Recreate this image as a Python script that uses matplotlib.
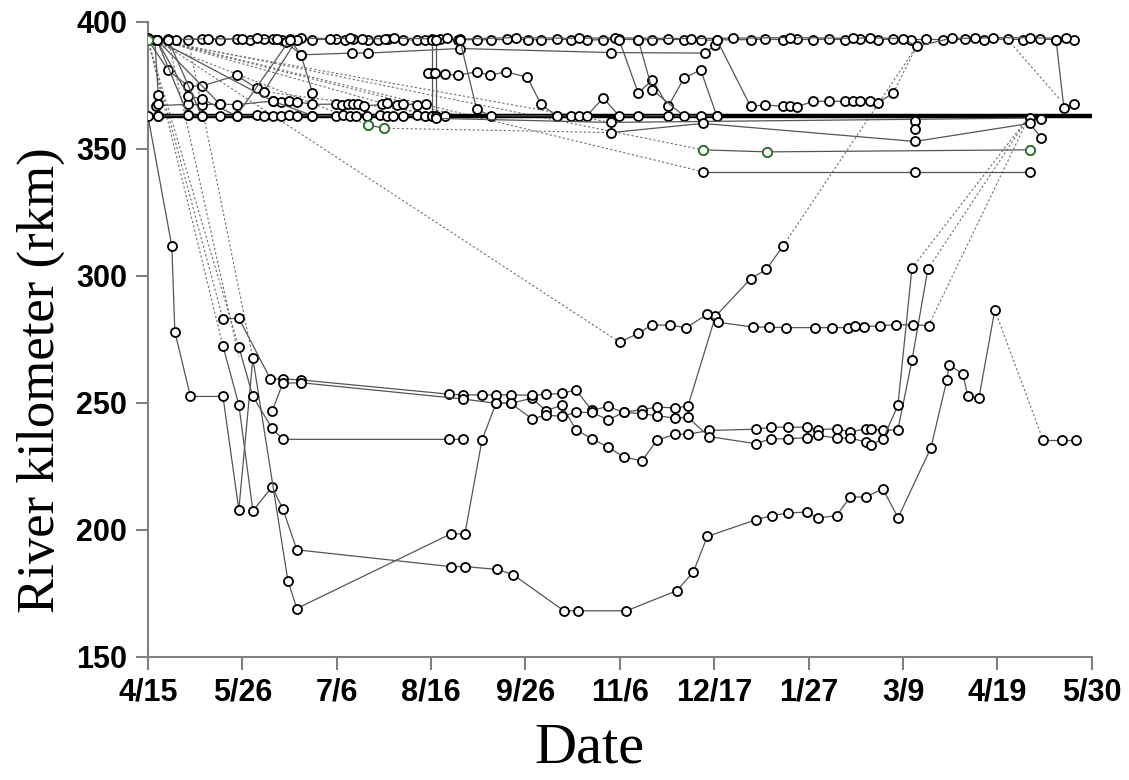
import numpy as np
import matplotlib.pyplot as plt

plt.rc('font', family='Liberation Sans')

# x values are days after 15 April
tick_days = [0, 41, 82, 123, 164, 205, 246, 287, 328, 369, 410]
tick_labels = ['4/15', '5/26', '7/6', '8/16', '9/26', '11/6', '12/17',
               '1/27', '3/9', '4/19', '5/30']
y_ticks = [150, 200, 250, 300, 350, 400]

# ---- upper river (around 393 rkm) ----
top_a_day = [3.8, 8.8, 17.5, 23.6, 31.3, 38.5, 44.3, 50.4, 54.4, 58.1,
             61.7, 64.6, 71.5, 81.9, 85.6, 89.2, 95.8, 100.1, 104.5, 110.9,
             116.7, 120.4, 126.9, 134.8, 142.8, 148.9, 155.9, 164.9, 170.7, 177.8,
             183.7, 190.6, 197.8, 204.7, 213.0, 219.1, 226.0, 232.8, 240.1, 247.1,
             261.8, 268.0, 276.0, 281.8, 289.0, 296.0, 302.8, 309.3, 317.3, 323.8,
             331.4, 338.0, 345.3, 355.0, 363.2, 373.5, 380.3, 387.5, 394.5, 402.3]
top_a_rkm = [393.0, 393.2, 393.0, 393.1, 393.0, 393.3, 393.0, 393.2, 393.1, 393.0,
             393.3, 392.8, 393.0, 393.2, 393.0, 393.1, 392.9, 393.0, 393.2, 393.0,
             392.8, 393.0, 393.1, 392.9, 393.0, 392.9, 393.1, 393.0, 392.9, 393.2,
             393.0, 392.8, 393.0, 393.1, 393.0, 392.9, 393.1, 393.0, 392.7, 392.9,
             393.0, 393.2, 393.0, 393.1, 393.0, 393.2, 393.0, 393.1, 393.0, 393.2,
             393.0, 393.1, 393.0, 393.1, 393.0, 393.2, 393.0, 393.2, 393.0, 392.9]

top_b_day = [0.0, 12.0, 26.0, 41.0, 47.4, 56.2, 66.5, 79.0, 87.8, 92.9,
             103.1, 106.7, 123.3, 129.8, 135.5, 160.0, 187.4, 203.0, 236.0, 254.0,
             279.0, 306.1, 313.6, 328.1, 333.9, 349.2, 359.3, 367.0, 383.0, 398.8]
top_b_rkm = [393.5, 393.0, 393.4, 393.2, 393.5, 393.3, 393.6, 393.4, 393.5, 393.2,
             393.4, 393.6, 393.3, 393.5, 393.2, 393.8, 393.5, 393.7, 393.4, 393.6,
             393.8, 393.5, 393.7, 393.4, 390.3, 393.6, 393.5, 393.8, 393.7, 393.5]

top_c_day = [60.0, 66.5, 88.6, 95.8, 135.5, 201.1, 242.0, 246.5]
top_c_rkm = [392.0, 387.0, 387.7, 387.7, 389.5, 387.9, 387.7, 391.0]

# ---- rows near the lower reach boundary ----
band368_day = [3.5, 17.5, 23.3, 31.3, 38.5, 54.2, 57.9, 61.5, 64.6, 71.5, 81.9,
               84.5, 87.0, 89.2, 91.3, 93.8, 101.5, 103.7, 108.1, 111.0, 116.7, 121.0]
band368_rkm = [367.0, 367.5, 367.3, 367.6, 367.4, 368.8, 368.5, 368.9, 368.6, 367.5, 367.6,
               367.4, 367.7, 367.5, 367.6, 366.8, 367.5, 368.0, 367.2, 367.6, 367.4, 367.7]

band363_day = [4.5, 17.5, 23.3, 31.3, 38.5, 47.4, 50.4, 54.2, 57.9, 61.5, 64.6,
               71.5, 81.9, 84.8, 87.7, 90.6, 95.0, 100.8, 103.7, 106.6, 110.9,
               116.7, 120.4, 123.3, 129.0]
band363_rkm = [363.0, 363.2, 363.0, 363.1, 363.0, 363.2, 363.0, 363.1, 363.0, 363.2, 363.0,
               363.1, 363.0, 363.2, 363.0, 363.1, 363.0, 363.2, 363.0, 363.1, 363.0,
               363.2, 363.0, 363.1, 363.0]

zz1_day = [0.0, 8.8, 17.5, 23.6, 38.5, 47.4, 50.4, 64.6]
zz1_rkm = [393.0, 381.0, 374.6, 374.8, 378.9, 373.8, 372.5, 393.0]
zz2_day = [3.8, 17.5, 23.6, 38.5, 61.7, 66.5, 71.5]
zz2_rkm = [393.0, 370.9, 369.5, 363.0, 393.0, 387.0, 372.0]
zz3_day = [3.0, 4.5, 4.5, 4.5]
zz3_rkm = [393.0, 371.3, 367.5, 363.0]
fan1_day = [3.8, 17.5]
fan1_rkm = [393.0, 363.2]
fan2_day = [3.8, 31.3]
fan2_rkm = [393.0, 367.6]
fan3_day = [3.8, 54.2, 71.5]
fan3_rkm = [393.0, 368.8, 363.1]
fan4_day = [8.8, 23.3]
fan4_rkm = [393.0, 363.0]

vert_day = [123.3, 123.3, 123.3, 125.3, 125.3]
vert_rkm = [393.0, 380.0, 363.0, 363.0, 393.0]
row380_day = [121.8, 124.5, 129.0, 134.8, 142.8, 148.6, 155.6, 164.8, 170.7, 177.8]
row380_rkm = [380.0, 380.0, 379.5, 379.0, 380.3, 379.0, 380.3, 378.2, 367.6, 362.8]
mid363_day = [135.5, 142.8, 148.9, 177.8, 183.7, 187.4, 190.6, 197.8, 204.7,
              213.0, 226.0, 240.1, 247.1]
mid363_rkm = [393.0, 365.6, 363.0, 363.0, 363.0, 363.0, 363.0, 370.0, 363.0,
              363.0, 363.0, 363.0, 363.0]
zm1_day = [204.7, 213.0, 219.1, 226.0, 232.8, 240.1, 247.1]
zm1_rkm = [393.0, 371.9, 377.2, 366.7, 377.7, 381.1, 363.0]
zm2_day = [213.0, 219.1, 232.8]
zm2_rkm = [393.0, 373.2, 363.0]
r368_day = [247.1, 261.8, 268.0, 276.0, 279.0, 281.8, 289.0, 296.0, 302.8,
            306.1, 309.3, 313.6, 317.3, 323.8]
r368_rkm = [393.0, 366.7, 367.3, 366.7, 366.7, 366.5, 368.7, 368.7, 368.7,
            369.0, 369.0, 368.7, 368.2, 372.0]
r_end_day = [394.5, 397.9, 402.3]
r_end_rkm = [393.0, 366.1, 367.5]

s360_day = [125.3, 201.1, 383.0, 388.1]
s360_rkm = [362.0, 360.4, 362.1, 361.7]
s356_day = [201.1, 241.0, 333.2, 383.0, 388.1]
s356_rkm = [356.4, 360.0, 352.9, 360.0, 354.4]
s358_day = [333.2, 333.2]
s358_rkm = [360.8, 357.8]
green_a_day = [95.7, 102.5]
green_a_rkm = [359.4, 358.1]
s350_day = [241.0, 269.0, 383.0]
s350_rkm = [349.6, 348.8, 349.6]
s342_day = [241.0, 333.2, 383.0]
s342_rkm = [341.0, 341.0, 341.0]

# ---- fish that moved downstream ----
low1_day = [32.6, 39.5, 45.6, 53.9, 58.6, 64.7, 131.6, 137.7, 151.8, 158.7,
            180.7, 186.9, 207.9, 229.7, 236.9, 243.0, 264.0, 270.9, 278.1, 286.1,
            290.9, 299.2, 305.0, 311.9, 319.2, 325.9, 340.1, 347.1, 348.0, 354.0,
            356.2, 361.0, 367.9]
low1_rkm = [272.4, 249.2, 207.5, 216.8, 208.3, 192.1, 185.5, 185.5, 184.4, 182.3,
            168.1, 168.1, 168.1, 176.0, 183.3, 197.4, 203.9, 205.6, 206.6, 207.0,
            204.6, 205.6, 212.9, 212.9, 216.1, 204.8, 232.2, 259.1, 265.0, 261.3,
            252.5, 251.9, 286.6]
low1_end_day = [388.8, 397.0, 403.1]
low1_end_rkm = [235.4, 235.4, 235.4]

trk_a_day = [0.0, 10.4, 11.7, 18.5, 32.6, 39.5, 45.6, 60.8, 64.7, 131.6,
             137.7, 145.1, 151.2, 157.7, 166.8, 172.9, 179.8, 185.9, 192.9, 199.8,
             206.8, 214.6, 221.1, 228.9, 234.6, 243.7, 264.1, 270.6, 278.0, 286.3,
             291.0, 299.3, 305.0, 311.9, 314.1, 319.3, 325.8, 331.9, 338.8]
trk_a_rkm = [363.0, 311.6, 278.0, 252.5, 252.5, 207.9, 267.5, 180.0, 169.0, 198.4,
             198.4, 235.2, 249.8, 249.8, 251.8, 246.9, 249.0, 239.4, 235.8, 232.6,
             228.6, 227.2, 235.2, 237.6, 237.6, 239.1, 239.6, 240.4, 240.4, 240.4,
             239.4, 239.8, 238.5, 239.8, 239.8, 239.1, 239.4, 266.7, 302.6]

trk_b_day = [32.6, 39.5, 53.2, 58.6, 66.5, 130.8, 136.8, 145.1, 151.2, 157.7,
             166.8, 172.9, 179.8, 185.9, 192.9, 199.8, 206.8, 214.6, 221.1, 228.9,
             234.6, 246.5, 261.8, 268.7, 275.8]
trk_b_rkm = [283.0, 283.3, 259.4, 259.4, 259.0, 253.4, 253.1, 253.1, 253.1, 253.1,
             253.0, 253.3, 253.7, 255.1, 247.0, 248.6, 246.2, 247.3, 248.3, 248.0,
             248.7, 284.0, 298.8, 302.6, 311.6]

trk_c_day = [53.9, 58.6, 66.5, 136.8, 151.2, 157.7, 166.8, 172.9, 179.8, 185.9,
             192.9, 199.8, 206.8, 214.6, 221.1, 228.9, 234.6, 243.7, 264.1, 270.6,
             278.0, 286.3, 291.0, 299.3, 305.0, 311.9, 314.1, 319.3, 325.8, 331.9]
trk_c_rkm = [246.6, 257.7, 257.9, 251.5, 249.8, 249.8, 243.7, 245.1, 244.7, 246.2,
             246.2, 243.3, 246.2, 245.7, 244.9, 244.0, 244.3, 236.7, 233.9, 235.8,
             235.8, 236.3, 237.2, 236.1, 236.1, 234.6, 233.3, 235.8, 249.0, 303.0]

trk_d_day = [39.5, 45.6, 53.9, 58.6, 130.8, 136.8]
trk_d_rkm = [272.0, 252.5, 240.0, 235.6, 235.6, 235.6]

trk_f_day = [205.0, 213.0, 219.1, 227.0, 233.9, 243.0, 247.8, 263.0, 270.0, 277.2,
             290.0, 297.1, 304.1, 307.1, 310.9, 318.0, 324.9, 332.2, 339.1]
trk_f_rkm = [273.8, 277.4, 280.7, 280.5, 279.6, 284.9, 281.7, 279.8, 279.8, 279.6,
             279.6, 279.6, 279.6, 280.4, 279.9, 280.4, 280.7, 280.7, 280.4]

# dotted links: (start day, start rkm, end day, end rkm)
gap_start_day = [3.8, 3.8, 3.8, 3.8, 0.0, 0.0, 0.0, 0.0, 0.0, 102.5, 50.4, 3.8,
                 367.9, 323.8, 275.8, 338.8, 331.9, 339.1, 373.5, 8.8, 17.5]
gap_start_rkm = [393.0, 393.0, 393.0, 393.0, 393.0, 393.0, 393.0, 393.0, 393.0, 358.1,
                 372.5, 393.0, 286.6, 372.0, 311.6, 302.6, 303.0, 280.4, 393.0, 393.0, 393.0]
gap_end_day = [241.0, 241.0, 205.0, 125.3, 201.1, 32.6, 39.5, 32.6, 95.7, 201.1,
               140.0, 135.0, 388.8, 333.9, 333.9, 383.0, 383.0, 383.0, 396.3, 39.5, 45.6]
gap_end_rkm = [349.6, 341.0, 273.8, 362.0, 360.4, 272.4, 272.0, 283.0, 359.4, 356.4,
               362.0, 363.0, 235.4, 390.3, 390.3, 363.0, 363.0, 363.0, 369.3, 268.0, 267.5]

green_day = [0.0, 95.7, 102.5, 241.0, 269.0, 383.0]
green_rkm = [393.0, 359.4, 358.1, 349.6, 348.8, 349.6]

solid_tracks = [
    (top_a_day, top_a_rkm), (top_b_day, top_b_rkm), (top_c_day, top_c_rkm),
    (band368_day, band368_rkm), (band363_day, band363_rkm),
    (zz1_day, zz1_rkm), (zz2_day, zz2_rkm), (zz3_day, zz3_rkm),
    (fan1_day, fan1_rkm), (fan2_day, fan2_rkm), (fan3_day, fan3_rkm), (fan4_day, fan4_rkm),
    (vert_day, vert_rkm), (row380_day, row380_rkm), (mid363_day, mid363_rkm),
    (zm1_day, zm1_rkm), (zm2_day, zm2_rkm), (r368_day, r368_rkm), (r_end_day, r_end_rkm),
    (s360_day, s360_rkm), (s356_day, s356_rkm), (s358_day, s358_rkm),
    (green_a_day, green_a_rkm), (s350_day, s350_rkm), (s342_day, s342_rkm),
    (low1_day, low1_rkm), (low1_end_day, low1_end_rkm),
    (trk_a_day, trk_a_rkm), (trk_b_day, trk_b_rkm), (trk_c_day, trk_c_rkm),
    (trk_d_day, trk_d_rkm), (trk_f_day, trk_f_rkm),
]

fig = plt.figure(figsize=(11.29, 7.8), dpi=100)
ax = fig.add_axes([0.131, 0.158, 0.836, 0.814])

ax.axhline(363, color='black', lw=3.2, zorder=2)

for i in range(len(gap_start_day)):
    ax.plot([gap_start_day[i], gap_end_day[i]], [gap_start_rkm[i], gap_end_rkm[i]],
            linestyle=(0, (2, 2)), color='#6e6e6e', lw=0.8, zorder=1)

for d, r in solid_tracks:
    ax.plot(d, r, '-', color='#555555', lw=0.9, marker='o', ms=6.5,
            mfc='white', mec='black', mew=1.3, zorder=3)

ax.plot(green_day, green_rkm, 'o', ms=6.5, mfc='white', mec='#2e7d2e', mew=1.3,
        ls='none', zorder=4)

ax.set_xlim(0, 410)
ax.set_ylim(150, 400)
ax.set_xticks(tick_days)
ax.set_xticklabels(tick_labels)
ax.set_yticks(y_ticks)
for s in ['top', 'right']:
    ax.spines[s].set_visible(False)
for s in ['left', 'bottom']:
    ax.spines[s].set_color('#808080')
    ax.spines[s].set_linewidth(1.5)
ax.tick_params(direction='out', length=9, width=1.5, color='#808080',
               labelsize=22, pad=6)
for lab in ax.get_xticklabels() + ax.get_yticklabels():
    lab.set_fontweight('bold')

ax.set_xlabel('Date', family='Liberation Serif', fontsize=42, va='center')
ax.set_ylabel('River kilometer (rkm)', family='Liberation Serif', fontsize=38)
ax.xaxis.set_label_coords(0.468, -0.145)
ax.yaxis.set_label_coords(-0.088, 0.436)

fig.savefig('out.png', dpi=100)
